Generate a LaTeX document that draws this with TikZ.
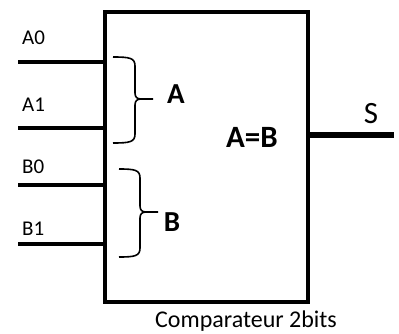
\documentclass[tikz,border=0pt]{standalone}
\usepackage{fontspec}
\setmainfont{Carlito}
\usetikzlibrary{positioning,calc}

\begin{document}
\begin{tikzpicture}[
  x=1pt, y=-1pt,
  block/.style={rectangle, draw, line width=3.5pt, minimum width=203pt, minimum height=290pt, inner sep=0pt},
  pin/.style={line width=3.5pt},
  outpin/.style={line width=5.5pt},
  brace/.style={line width=1.6pt},
  lbl/.style={font=\fontsize{21}{24}\selectfont, inner sep=0pt, anchor=base west},
  big/.style={font=\fontsize{29}{32}\selectfont\bfseries, inner sep=0pt}
]
\useasboundingbox (0,0) rectangle (399,334);

\node[block] (comp) at (206.5,157) {};
\node[big, font=\fontsize{31}{34}\selectfont\bfseries] (eq) at (252,137) {A=B};
\node[font=\fontsize{24}{28}\selectfont, inner sep=0pt, anchor=base] (name) at (246,327) {Comparateur 2bits};

% entrees
\coordinate (a0) at (18,62);
\coordinate (a1) at (18,128);
\coordinate (b0) at (18,185);
\coordinate (b1) at (18,244);
\draw[pin] (a0) -- (a0 -| comp.west);
\draw[pin] (a1) -- (a1 -| comp.west);
\draw[pin] (b0) -- (b0 -| comp.west);
\draw[pin] (b1) -- (b1 -| comp.west);
\node[lbl] (la0) at (22,45) {A0};
\node[lbl] (la1) at (22,112) {A1};
\node[lbl] (lb0) at (22,174) {B0};
\node[lbl] (lb1) at (22,235) {B1};

% accolades
\draw[brace] (113,57) .. controls (130,57) and (135,58) .. (135,66) -- (135,93)
  .. controls (135,97) and (137,99) .. (141,99) -- (153,99);
\draw[brace] (141,99) .. controls (137,99) and (135,101) .. (135,105) -- (135,134)
  .. controls (135,142) and (130,143) .. (113,143);
\node[big] (la) at (176,94) {A};

\draw[brace] (119,169) .. controls (135,169) and (140,170) .. (140,178) -- (140,206)
  .. controls (140,210) and (142,212) .. (146,212) -- (158,212);
\draw[brace] (146,212) .. controls (142,212) and (140,214) .. (140,218) -- (140,248)
  .. controls (140,256) and (135,257) .. (119,257);
\node[big] (lb) at (172,222) {B};

% sortie
\coordinate (s) at (394,135);
\draw[outpin] (s -| comp.east) -- (s);
\node[font=\fontsize{31}{34}\selectfont, inner sep=0pt] (ls) at (371,114) {S};

\end{tikzpicture}
\end{document}
